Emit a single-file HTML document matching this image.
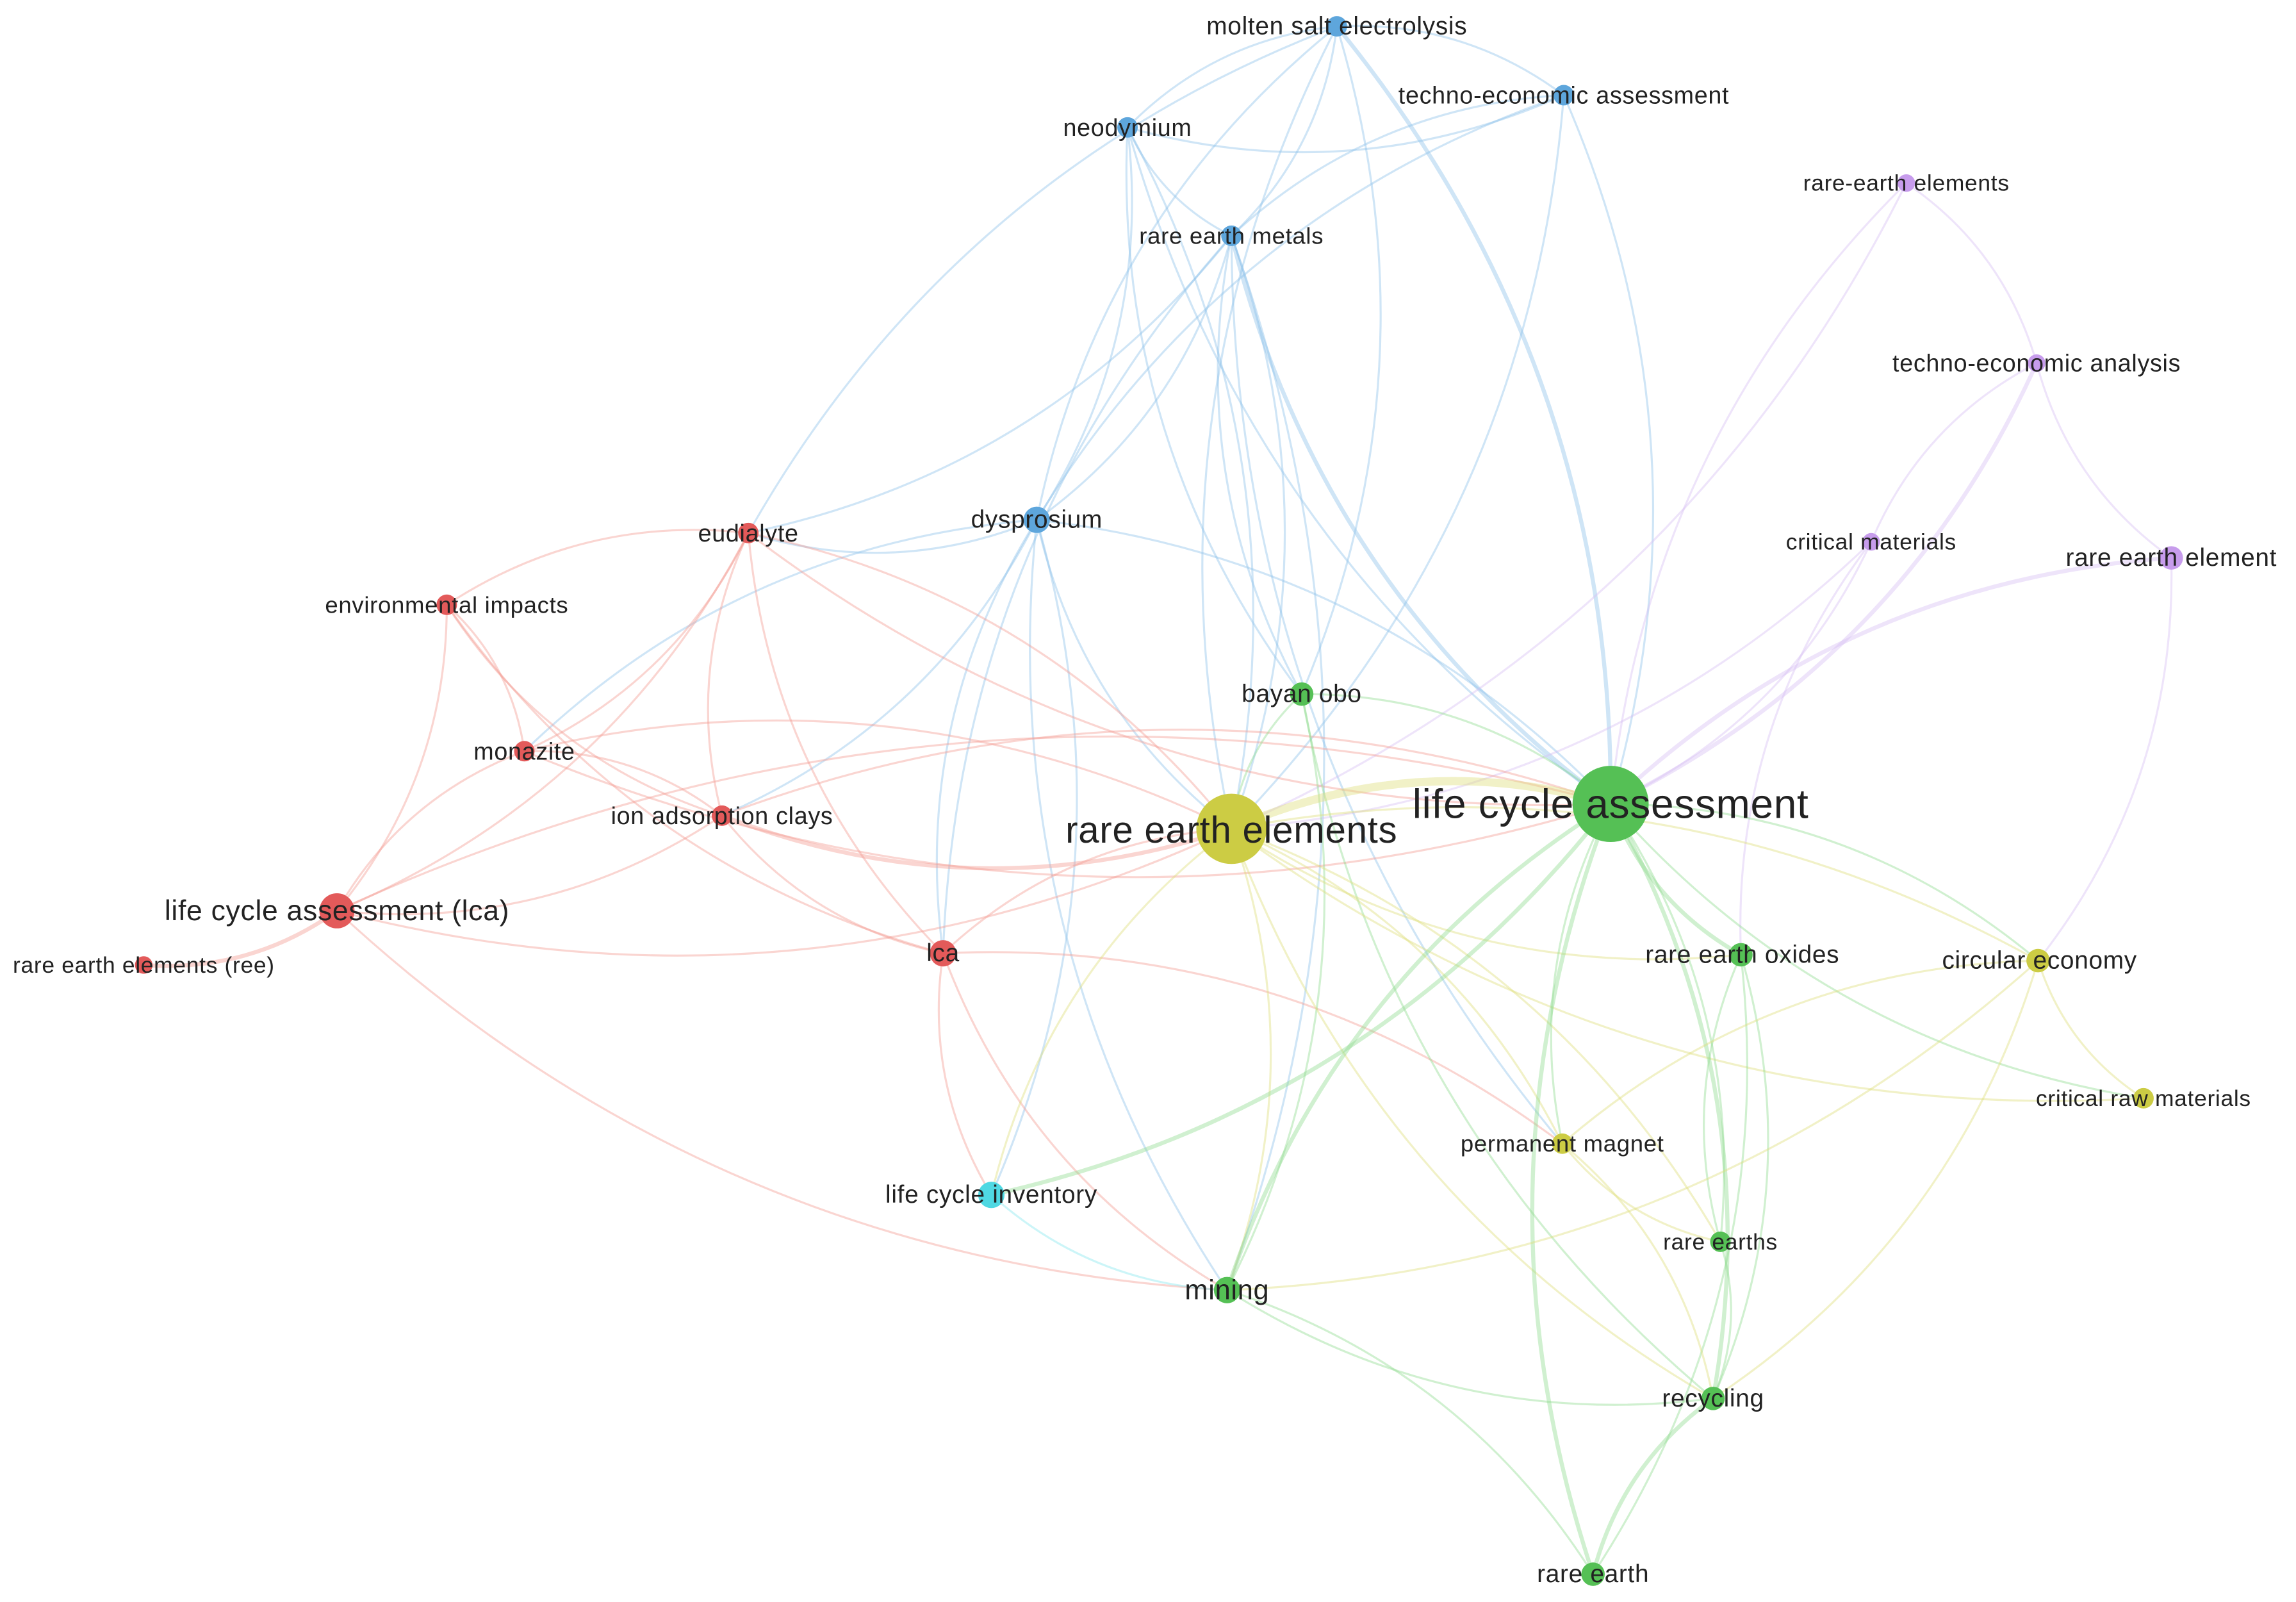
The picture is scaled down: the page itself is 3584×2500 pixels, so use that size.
<!DOCTYPE html>
<html><head><meta charset="utf-8">
<style>
html,body{margin:0;padding:0;background:#fff;}
svg{display:block;}
text{font-family:"Liberation Sans",sans-serif;fill:#222;text-anchor:middle;dominant-baseline:central;letter-spacing:0.3px;}
</style></head>
<body>
<svg id="s" width="3584" height="2500" viewBox="0 0 1568 1094" xmlns="http://www.w3.org/2000/svg">
<rect width="1568" height="1094" fill="#fff"/>
<g id="edges" fill="none"></g>
<g id="nodes"></g>
<g id="labels">
<text x="913" y="18" font-size="17">molten salt electrolysis</text>
<text x="1068" y="65" font-size="16.5">techno-economic assessment</text>
<text x="770" y="87" font-size="16.5">neodymium</text>
<text x="841" y="161" font-size="16">rare earth metals</text>
<text x="708" y="355" font-size="17">dysprosium</text>
<text x="1302" y="125" font-size="15.5">rare-earth elements</text>
<text x="1391" y="248" font-size="16.5">techno-economic analysis</text>
<text x="1278" y="370" font-size="15.5">critical materials</text>
<text x="1483" y="381" font-size="17">rare earth element</text>
<text x="511" y="364" font-size="16.5">eudialyte</text>
<text x="305" y="413" font-size="16">environmental impacts</text>
<text x="358" y="513" font-size="16.5">monazite</text>
<text x="493" y="557" font-size="16.5">ion adsorption clays</text>
<text x="230" y="622" font-size="19.5">life cycle assessment (lca)</text>
<text x="98" y="659" font-size="15.5">rare earth elements (ree)</text>
<text x="644" y="651" font-size="17">lca</text>
<text x="889" y="474" font-size="17">bayan obo</text>
<text x="1100" y="549" font-size="28">life cycle assessment</text>
<text x="841" y="567" font-size="25.5">rare earth elements</text>
<text x="1190" y="652" font-size="17">rare earth oxides</text>
<text x="1393" y="656" font-size="17">circular economy</text>
<text x="1464" y="750" font-size="15.5">critical raw materials</text>
<text x="1067" y="781" font-size="16">permanent magnet</text>
<text x="677" y="816" font-size="17">life cycle inventory</text>
<text x="838" y="881" font-size="19">mining</text>
<text x="1175" y="848" font-size="15.5">rare earths</text>
<text x="1170" y="955" font-size="17">recycling</text>
<text x="1088" y="1075" font-size="17">rare earth</text>
</g>
</svg>
<script>
var N={
mse:[913,18,7,'#5ea6dc'],tea:[1068,65,7,'#5ea6dc'],neo:[770,87,7,'#5ea6dc'],rem:[841,161,7,'#5ea6dc'],dys:[708,355,9,'#5ea6dc'],
ree2:[1302,125,6,'#c79cec'],tean:[1391,248,6,'#c79cec'],cm:[1278,370,6,'#c79cec'],reel:[1483,381,8,'#c79cec'],
eud:[511,364,7,'#e35a5a'],env:[305,413,7,'#e35a5a'],mon:[358,513,7,'#e35a5a'],iac:[493,557,7,'#e35a5a'],lcal:[230,622,12,'#e35a5a'],reer:[98,659,6,'#e35a5a'],lca:[644,651,9,'#e35a5a'],
bay:[889,474,8,'#55c055'],LCA:[1100,549,26,'#55c055'],REE:[841,566,24,'#cccc44'],reo:[1189,652,8,'#55c055'],ce:[1392,656,8,'#cccc44'],crm:[1464,750,7,'#cccc44'],pm:[1067,781,7,'#cccc44'],
lci:[677,816,9,'#4fd8e2'],min:[838,881,9,'#55c055'],res:[1175,848,7,'#55c055'],rec:[1170,955,8,'#55c055'],re:[1088,1075,8,'#55c055']};
var EC={'#5ea6dc':'#8cc2ea','#c79cec':'#d6bff2','#e35a5a':'#f29a92','#55c055':'#8fdc8f','#cccc44':'#dede7a','#4fd8e2':'#86e6ee'};
var E=[
['mse','tea'],['mse','neo'],['mse','rem'],['mse','dys'],['mse','LCA',2],['mse','REE'],['mse','bay'],['mse','eud'],
['tea','neo'],['tea','rem'],['tea','LCA'],['tea','dys'],['tea','REE'],
['neo','rem'],['neo','dys'],['neo','LCA'],['neo','REE'],['neo','bay'],
['rem','dys'],['rem','LCA',2],['rem','REE'],['rem','bay'],['rem','eud'],['rem','lca'],['rem','min'],['rem','pm'],
['dys','eud'],['dys','REE'],['dys','LCA'],['dys','lca'],['dys','lci'],['dys','min'],['dys','iac'],['dys','mon'],
['ree2','tean'],['ree2','LCA'],['ree2','REE'],['tean','reel'],['tean','LCA',2],['tean','cm'],['cm','LCA'],['cm','reo'],['cm','REE'],['reel','LCA',2],['reel','ce'],
['eud','env'],['eud','mon'],['eud','iac'],['eud','lcal'],['eud','lca'],['eud','REE'],['eud','LCA'],
['env','mon'],['env','iac'],['env','lcal'],['env','lca'],
['mon','iac'],['mon','lcal'],['mon','REE'],['mon','LCA'],
['iac','lcal'],['iac','REE',2],['iac','LCA'],['iac','lca'],
['lcal','reer',2],['lcal','REE'],['lcal','LCA'],['lcal','min'],
['lca','REE'],['lca','lci'],['lca','pm'],['lca','min'],
['bay','LCA'],['bay','REE'],['bay','min'],['bay','rec'],
['REE','LCA',4],['REE','reo'],['REE','ce'],['REE','crm'],['REE','pm'],['REE','lci'],['REE','min'],['REE','rec'],['REE','res'],
['LCA','reo',2],['LCA','ce'],['LCA','pm'],['LCA','lci',2],['LCA','min',2],['LCA','rec',2],['LCA','re',2],['LCA','res'],['LCA','crm'],
['reo','rec'],['reo','res'],['reo','re'],['ce','crm'],['ce','rec'],['ce','pm'],['ce','min'],['pm','res'],['pm','rec'],
['min','rec'],['min','re'],['lci','min'],['res','rec'],['rec','re',2]];
var g=document.getElementById('edges'),ns='http://www.w3.org/2000/svg';
E.forEach(function(e,i){var a=N[e[0]],b=N[e[1]];var dx=b[0]-a[0],dy=b[1]-a[1];var k=(i%2?0.18:-0.18);
var cx=(a[0]+b[0])/2-dy*k,cy=(a[1]+b[1])/2+dx*k;var p=document.createElementNS(ns,'path');
p.setAttribute('d','M'+a[0]+' '+a[1]+' Q'+cx+' '+cy+' '+b[0]+' '+b[1]);p.setAttribute('stroke',EC[a[3]]);
p.setAttribute('stroke-width',1.4*(e[2]||1));p.setAttribute('stroke-opacity','0.42');g.appendChild(p);});
var gn=document.getElementById('nodes');
for(var k in N){var n=N[k];var c=document.createElementNS(ns,'circle');c.setAttribute('cx',n[0]);c.setAttribute('cy',n[1]);c.setAttribute('r',n[2]);c.setAttribute('fill',n[3]);gn.appendChild(c);}
</script>
</body></html>
